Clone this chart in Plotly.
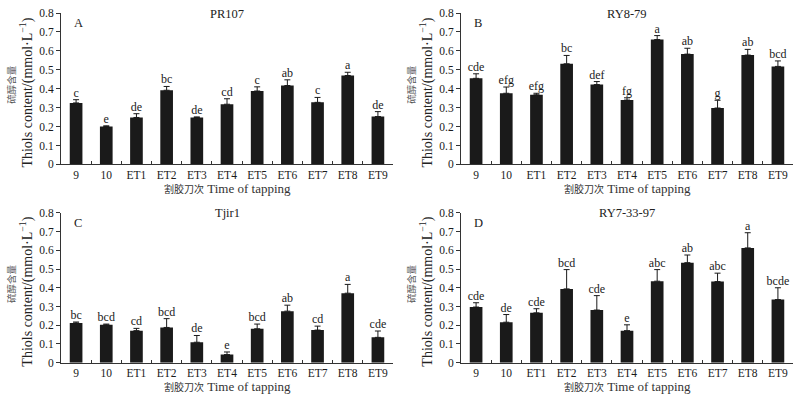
import plotly.graph_objects as go

categories = ["9", "10", "ET1", "ET2", "ET3", "ET4", "ET5", "ET6", "ET7", "ET8", "ET9"]

a_means = [0.325, 0.200, 0.248, 0.392, 0.248, 0.318, 0.388, 0.417, 0.328, 0.470, 0.253]
a_errs = [0.017, 0.004, 0.020, 0.020, 0.003, 0.029, 0.022, 0.030, 0.026, 0.017, 0.026]
a_letters = ["c", "e", "de", "bc", "de", "cd", "c", "ab", "c", "a", "de"]

b_means = [0.455, 0.376, 0.368, 0.532, 0.422, 0.340, 0.660, 0.583, 0.298, 0.578, 0.518]
b_errs = [0.024, 0.033, 0.008, 0.044, 0.016, 0.012, 0.021, 0.031, 0.041, 0.030, 0.029]
b_letters = ["cde", "efg", "efg", "bc", "def", "fg", "a", "ab", "g", "ab", "bcd"]

c_means = [0.212, 0.202, 0.171, 0.188, 0.109, 0.043, 0.181, 0.275, 0.174, 0.371, 0.135]
c_errs = [0.005, 0.004, 0.012, 0.047, 0.036, 0.014, 0.025, 0.032, 0.021, 0.047, 0.034]
c_letters = ["bc", "bcd", "cd", "bcd", "de", "e", "bcd", "ab", "cd", "a", "cde"]

d_means = [0.297, 0.216, 0.266, 0.394, 0.281, 0.171, 0.435, 0.534, 0.433, 0.613, 0.337]
d_errs = [0.023, 0.041, 0.022, 0.103, 0.077, 0.031, 0.062, 0.041, 0.045, 0.081, 0.063]
d_letters = ["cde", "de", "cde", "bcd", "cde", "e", "abc", "ab", "abc", "a", "bcde"]

titles = ["PR107", "RY8-79", "Tjir1", "RY7-33-97"]
panel_tags = ["A", "B", "C", "D"]
y_ticks = [0, 0.1, 0.2, 0.3, 0.4, 0.5, 0.6, 0.7, 0.8]
y_tick_text = ["0", "0.1", "0.2", "0.3", "0.4", "0.5", "0.6", "0.7", "0.8"]
x_title = "<span style='font-size:10px'>割胶刀次</span> Time of tapping"
y_title_cn = "硫醇含量"
y_title_en = "Thiols content/(mmol·L<sup>−1</sup>)"

W, H = 800, 399
SERIF = "Liberation Serif, Times New Roman, Noto Sans CJK SC, serif"

# pixel geometry of each panel: (left, right, top, bottom)
panels_px = [
    (61, 393, 7.3, 163.3),
    (461, 793, 7.3, 163.3),
    (61, 393, 213.3, 367.7),
    (461, 793, 213.3, 367.7),
]

series = [
    (a_means, a_errs, a_letters),
    (b_means, b_errs, b_letters),
    (c_means, c_errs, c_letters),
    (d_means, d_errs, d_letters),
]

fig = go.Figure()
annotations = []

for i, ((means, errs, letters), (l, r, t, b)) in enumerate(zip(series, panels_px)):
    n = i + 1
    xa = "x" if n == 1 else f"x{n}"
    ya = "y" if n == 1 else f"y{n}"
    fig.add_trace(go.Bar(
        x=categories, y=means, xaxis=xa, yaxis=ya,
        width=0.42,
        marker=dict(color="#1a1a1a", line=dict(width=0)),
        error_y=dict(type="data", array=errs, arrayminus=[0] * len(errs),
                     symmetric=False, color="#1a1a1a", thickness=1, width=3),
        showlegend=False, hoverinfo="skip",
    ))
    tops = [m + e for m, e in zip(means, errs)]
    fig.add_trace(go.Scatter(
        x=categories, y=tops, xaxis=xa, yaxis=ya, mode="text",
        text=letters, textposition="top center",
        textfont=dict(family=SERIF, size=12, color="#1a1a1a"),
        showlegend=False, hoverinfo="skip", cliponaxis=False,
    ))
    xdom = [l / W, r / W]
    ydom = [1 - b / H, 1 - t / H]
    axis_common = dict(showline=True, linecolor="#333", linewidth=1,
                       showgrid=False, zeroline=False,
                       tickfont=dict(family=SERIF, size=11.5, color="#1a1a1a"))
    fig.update_layout(**{
        ("xaxis" if n == 1 else f"xaxis{n}"): dict(
            domain=xdom, anchor=ya, type="category", range=[-0.5, 10.5],
            ticks="inside", tickson="boundaries", ticklen=3, tickcolor="#333",
            **axis_common),
        ("yaxis" if n == 1 else f"yaxis{n}"): dict(
            domain=ydom, anchor=xa, range=[0, 0.8],
            tickmode="array", tickvals=y_ticks, ticktext=y_tick_text,
            ticks="outside", ticklen=4, tickcolor="#333",
            **axis_common),
    })
    cx = (l + r) / 2
    cy = (t + b) / 2
    annotations += [
        dict(text=titles[i], x=cx / W, y=1 - (t + 0.5) / H, xref="paper", yref="paper",
             showarrow=False, xanchor="center", yanchor="middle",
             font=dict(family=SERIF, size=12.5, color="#222")),
        dict(text=panel_tags[i], x=(l + 11) / W, y=1 - (t + 10) / H, xref="paper", yref="paper",
             showarrow=False, xanchor="left", yanchor="middle",
             font=dict(family=SERIF, size=12.5, color="#222")),
        dict(text=x_title, x=cx / W, y=1 - (b + 25) / H, xref="paper", yref="paper",
             showarrow=False, xanchor="center", yanchor="middle",
             font=dict(family=SERIF, size=13, color="#333")),
        dict(text=y_title_cn, x=(l - 49) / W, y=1 - (cy - 4) / H, xref="paper", yref="paper",
             showarrow=False, xanchor="center", yanchor="middle", textangle=-90,
             font=dict(family=SERIF, size=9.5, color="#555")),
        dict(text=y_title_en, x=(l - 34) / W, y=1 - (cy + 4) / H, xref="paper", yref="paper",
             showarrow=False, xanchor="center", yanchor="middle", textangle=-90,
             font=dict(family=SERIF, size=14, color="#222")),
    ]

fig.update_layout(
    width=W, height=H,
    margin=dict(l=0, r=0, t=0, b=0),
    paper_bgcolor="white", plot_bgcolor="white",
    bargap=0.58,
    annotations=annotations,
    font=dict(family=SERIF),
)

fig.write_html(
    "out.html",
    config={"displayModeBar": False},
    post_script="document.body.style.margin='0';document.body.style.padding='0';"
                "document.body.style.overflow='hidden';",
)
